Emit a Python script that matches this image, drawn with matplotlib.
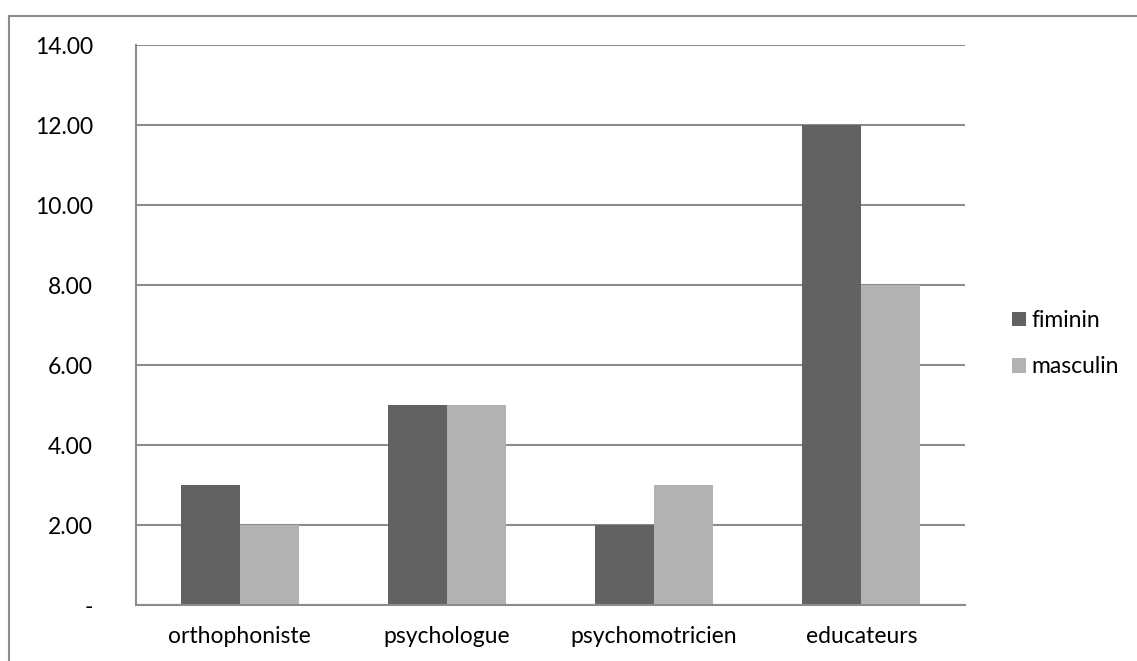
import matplotlib
matplotlib.use("Agg")
import matplotlib.pyplot as plt
import numpy as np

plt.rcParams["font.family"] = ["Lato", "DejaVu Sans"]

categories = ["orthophoniste", "psychologue", "psychomotricien", "educateurs"]
feminin = [3, 5, 2, 12]
masculin = [2, 5, 3, 8]
series_names = ["fiminin", "masculin"]
y_ticks = [0, 2, 4, 6, 8, 10, 12, 14]

DARK = "#626262"
LIGHT = "#b2b2b2"
GRID = "#8c8c8c"
FS = 16.5

fig = plt.figure(figsize=(11.37, 6.61), dpi=100)
ax = fig.add_axes([136 / 1137, 56 / 661, 829 / 1137, 560 / 661])

x = np.arange(len(categories))
width = 0.285
ax.bar(x - width / 2, feminin, width, color=DARK, label=series_names[0], zorder=2)
ax.bar(x + width / 2, masculin, width, color=LIGHT, label=series_names[1], zorder=2)

ax.set_xlim(-0.5, len(categories) - 0.5)
ax.set_ylim(0, 14)
ax.set_yticks(y_ticks)
ax.set_yticklabels(["-"] + [f"{v:.2f}" for v in y_ticks[1:]])
ax.set_xticks(x)
ax.set_xticklabels(categories)
ax.tick_params(length=0, labelsize=FS, colors="black")
ax.tick_params(axis="y", pad=31)
ax.tick_params(axis="x", pad=15)

ax.yaxis.grid(True, color=GRID, linewidth=1.5, zorder=1)
ax.set_axisbelow(True)
for side in ["top", "right"]:
    ax.spines[side].set_visible(False)
for side in ["left", "bottom"]:
    ax.spines[side].set_color(GRID)
    ax.spines[side].set_linewidth(1.5)

fig.legend(loc="upper left", bbox_to_anchor=(1003 / 1137, 1 - 301 / 661),
           frameon=False, fontsize=FS, handlelength=0.6, handleheight=0.6,
           handletextpad=0.25, labelspacing=1.1, borderaxespad=0)

# outer chart frame, open on the right and bottom edges
frame_x = 8.5 / 1137
frame_y = 1 - 15.5 / 661
fig.add_artist(plt.Line2D([frame_x, 1.0], [frame_y, frame_y], transform=fig.transFigure,
                          color=GRID, linewidth=1.5))
fig.add_artist(plt.Line2D([frame_x, frame_x], [0.0, frame_y], transform=fig.transFigure,
                          color=GRID, linewidth=1.5))

fig.savefig("out.png", dpi=100)
